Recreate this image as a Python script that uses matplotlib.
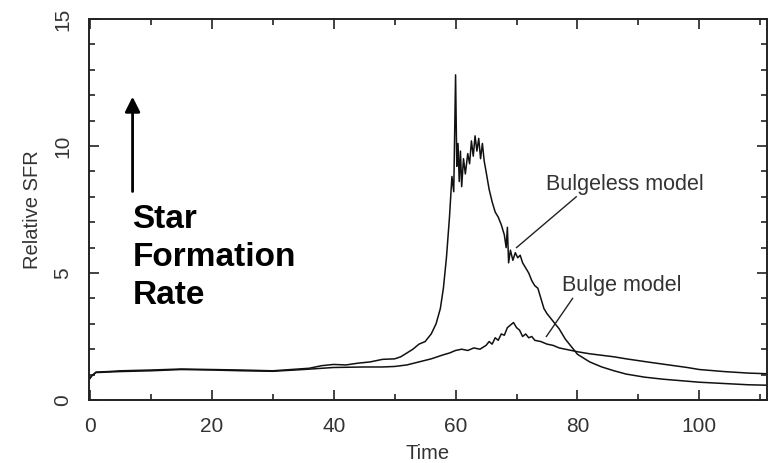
import matplotlib.pyplot as plt
from matplotlib.ticker import MultipleLocator

# -- data --
bulgeless_t = [0, 0.3, 1, 3, 5, 10, 15, 20, 25, 30, 33, 36, 38, 40, 42, 44, 46, 48, 50,
               51, 52, 53, 54, 55, 56, 56.8, 57.5, 58, 58.5, 59, 59.4, 59.7, 60, 60.2, 60.4,
               60.6, 60.8, 61, 61.3, 61.6, 62, 62.3, 62.6, 62.9, 63.2, 63.5, 63.8, 64.1, 64.4,
               64.7, 65, 65.5, 66, 66.5, 67, 67.5, 68, 68.3, 68.5, 68.7, 69, 69.4, 69.8, 70.2,
               70.6, 71, 71.5, 72, 72.5, 73, 73.5, 74, 74.5, 75, 76, 77, 78, 79, 80, 82, 84,
               86, 88, 91, 94, 97, 100, 104, 108, 111.5]
bulgeless_y = [0.85, 0.95, 1.1, 1.12, 1.15, 1.18, 1.22, 1.2, 1.18, 1.15, 1.2, 1.25, 1.35, 1.4,
               1.38, 1.45, 1.5, 1.6, 1.62, 1.7, 1.85, 2.0, 2.2, 2.3, 2.6, 3.0, 3.6, 4.4, 5.6,
               7.2, 8.8, 8.2, 12.8, 9.2, 10.1, 8.6, 9.8, 8.4, 9.5, 8.9, 9.7, 9.3, 10.2, 9.6,
               10.4, 9.8, 10.3, 9.5, 10.1, 9.4, 9.0, 8.3, 7.8, 7.4, 7.2, 6.9, 6.5, 6.0, 6.8,
               5.4, 5.9, 5.5, 5.8, 5.6, 5.7, 5.4, 5.2, 5.0, 4.7, 4.5, 4.4, 4.0, 3.6, 3.4, 3.1,
               2.8, 2.4, 2.1, 1.8, 1.5, 1.3, 1.15, 1.02, 0.9, 0.82, 0.76, 0.7, 0.65, 0.6, 0.58]

bulge_t = [0, 0.3, 1, 3, 5, 10, 15, 20, 25, 30, 35, 40, 45, 48, 50, 52, 54, 56, 57, 58,
           59, 60, 61, 62, 63, 64, 65, 65.5, 66, 66.5, 67, 67.5, 68, 68.5, 69, 69.5, 70,
           70.5, 71, 71.5, 72, 72.5, 73, 74, 75, 76, 77, 78, 79, 80, 82, 84, 86, 88, 90,
           92, 95, 98, 100, 104, 108, 111.5]
bulge_y = [0.85, 0.95, 1.08, 1.1, 1.12, 1.15, 1.2, 1.18, 1.15, 1.13, 1.2, 1.28, 1.3, 1.3,
           1.32, 1.38, 1.5, 1.62, 1.7, 1.78, 1.85, 1.95, 2.0, 1.95, 2.05, 2.0, 2.15, 2.3,
           2.2, 2.45, 2.35, 2.6, 2.55, 2.85, 2.95, 3.05, 2.85, 2.75, 2.5, 2.6, 2.45, 2.5,
           2.35, 2.3, 2.2, 2.15, 2.05, 2.0, 1.95, 1.9, 1.82, 1.76, 1.7, 1.62, 1.55, 1.48,
           1.38, 1.28, 1.2, 1.12, 1.06, 1.03]

x_ticks = [0, 20, 40, 60, 80, 100]
x_labels = ['0', '20', '40', '60', '80', '100']
y_ticks = [0, 5, 10, 15]
y_labels = ['0', '5', '10', '15']

plt.rcParams['font.family'] = ['Liberation Sans', 'DejaVu Sans']

fig = plt.figure(figsize=(7.69, 4.63), dpi=100)
ax = fig.add_axes([89 / 769, 1 - 400 / 463, (767 - 89) / 769, (400 - 19) / 463])

ax.plot(bulgeless_t, bulgeless_y, color='#111111', lw=1.1)
ax.plot(bulge_t, bulge_y, color='#111111', lw=1.1)

ax.set_xlim(-0.15, 111.1)
ax.set_ylim(0, 14.88)

grey = '#333333'
ax.set_xticks(x_ticks)
ax.set_xticklabels(x_labels)
ax.set_yticks(y_ticks)
ax.set_yticklabels(y_labels, rotation=90, va='center')
ax.xaxis.set_minor_locator(MultipleLocator(10))
ax.yaxis.set_minor_locator(MultipleLocator(1))
ax.tick_params(which='both', direction='in', top=True, right=True, colors='#222222',
               labelcolor=grey, labelsize=15, width=1.2)
ax.tick_params(which='major', length=7, pad=12)
ax.tick_params(which='minor', length=4)
for s in ax.spines.values():
    s.set_linewidth(1.4)
    s.set_color('#222222')

ax.set_xlabel('Time', fontsize=14.5, color=grey, labelpad=6)
ax.set_ylabel('Relative SFR', fontsize=14.5, color=grey, labelpad=8)

# big annotation on the left
ax.annotate('', xy=(7.0, 12.05), xytext=(7.0, 8.1),
            arrowprops=dict(arrowstyle='-|>,head_width=0.45,head_length=0.9',
                            color='black', lw=2))
ax.text(7.0, 7.7, 'Star\nFormation\nRate', fontsize=24, fontweight='bold',
        va='top', ha='left', linespacing=1.28, color='black')

# model labels
ax.text(74.9, 8.5, 'Bulgeless model', fontsize=15.5, color=grey, va='center', ha='left')
ax.plot([79.8, 70.0], [8.0, 6.0], color='#222222', lw=1)
ax.text(77.5, 4.5, 'Bulge model', fontsize=15.5, color=grey, va='center', ha='left')
ax.plot([79.2, 74.9], [4.0, 2.5], color='#222222', lw=1)

fig.savefig('out.png', dpi=100)
